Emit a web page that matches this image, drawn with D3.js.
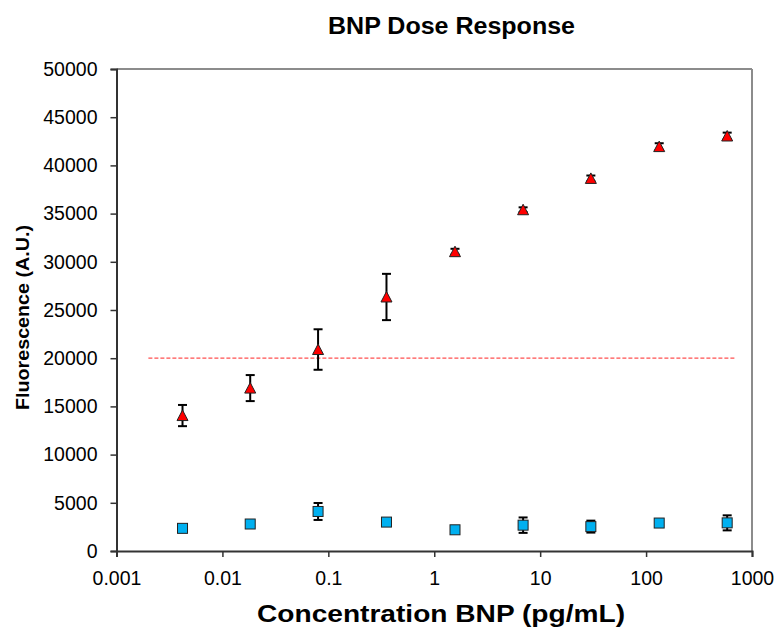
<!DOCTYPE html>
<html><head><meta charset="utf-8">
<script src="https://cdn.jsdelivr.net/npm/d3@7"></script>
<style>body{margin:0;background:#fff}svg{display:block}</style>
</head><body><svg id="c" width="779" height="635"></svg>
<script>
const concentrations = [0.0042, 0.0183, 0.080, 0.354, 1.57, 6.9, 30.1, 133, 583];
const bnpMean = [14050, 16900, 20900, 26350, 31050, 35400, 38650, 41950, 43050];
const bnpErr  = [1100, 1350, 2100, 2400, 300, 250, 300, 350, 350];
const ctrlMean = [2350, 2800, 4100, 3000, 2200, 2680, 2530, 2900, 2920];
const ctrlErr  = [0, 0, 880, 0, 0, 800, 620, 0, 780];
const cutoff = 20000;
const cutoffRange = [0.002, 690];
const xTicks = [0.001, 0.01, 0.1, 1, 10, 100, 1000];
const yTicks = [0, 5000, 10000, 15000, 20000, 25000, 30000, 35000, 40000, 45000, 50000];

const svg = d3.select("#c");
const L = 116.5, R = 752, T = 69, B = 551;
const x = d3.scaleLog().domain([0.001, 1000]).range([L, R]);
const y = d3.scaleLinear().domain([0, 50000]).range([B, T]);
const font = "Arial, 'Liberation Sans', sans-serif";

// frame top/right
svg.append("line").attr("x1", L).attr("x2", R).attr("y1", T).attr("y2", T).attr("stroke", "#8c8c8c").attr("stroke-width", 2);
svg.append("line").attr("x1", R).attr("x2", R).attr("y1", T).attr("y2", B).attr("stroke", "#8c8c8c").attr("stroke-width", 2);

// axes
const ya = svg.append("g").attr("transform", `translate(${L},0)`)
  .call(d3.axisLeft(y).tickValues(yTicks).tickSize(6).tickPadding(13).tickFormat(d3.format("d")));
const xa = svg.append("g").attr("transform", `translate(0,${B})`)
  .call(d3.axisBottom(x).tickValues(xTicks).tickSize(6).tickPadding(14).tickFormat(d => d >= 1 ? d3.format("d")(d) : String(d)));
[ya, xa].forEach(g => {
  g.select(".domain").attr("stroke", "#333").attr("stroke-width", 2);
  g.selectAll(".tick line").attr("stroke", "#333").attr("stroke-width", 1.5);
  g.selectAll("text").attr("font-family", font).attr("font-size", 19.5).attr("fill", "#000");
});

// cutoff line
svg.append("line").attr("x1", x(cutoffRange[0])).attr("x2", x(cutoffRange[1]))
  .attr("y1", y(cutoff)).attr("y2", y(cutoff))
  .attr("stroke", "#ff5050").attr("stroke-width", 1.2).attr("stroke-dasharray", "4,2");

function errBars(means, errs) {
  const g = svg.append("g").attr("stroke", "#000").attr("stroke-width", 2);
  means.forEach((m, i) => {
    const e = errs[i]; if (!e) return;
    const cx = x(concentrations[i]);
    g.append("line").attr("x1", cx).attr("x2", cx).attr("y1", y(m - e)).attr("y2", y(m + e));
    g.append("line").attr("x1", cx - 4.5).attr("x2", cx + 4.5).attr("y1", y(m + e)).attr("y2", y(m + e));
    g.append("line").attr("x1", cx - 4.5).attr("x2", cx + 4.5).attr("y1", y(m - e)).attr("y2", y(m - e));
  });
}
errBars(bnpMean, bnpErr);
errBars(ctrlMean, ctrlErr);

// squares
svg.append("g").selectAll("rect").data(ctrlMean).join("rect")
  .attr("x", (d, i) => x(concentrations[i]) - 5).attr("y", d => y(d) - 5)
  .attr("width", 10).attr("height", 10)
  .attr("fill", "#00b0f0").attr("stroke", "#222").attr("stroke-width", 1);

// triangles
svg.append("g").selectAll("path").data(bnpMean).join("path")
  .attr("d", (d, i) => { const cx = x(concentrations[i]), cy = y(d);
    return `M${cx},${cy - 5.5}L${cx + 5.5},${cy + 5}L${cx - 5.5},${cy + 5}Z`; })
  .attr("fill", "#ff0000").attr("stroke", "#222").attr("stroke-width", 1);

// titles
svg.append("text").attr("x", 451.5).attr("y", 34).attr("text-anchor", "middle")
  .attr("font-family", font).attr("font-weight", "bold").attr("font-size", 23)
  .attr("textLength", 247).attr("lengthAdjust", "spacingAndGlyphs").text("BNP Dose Response");
svg.append("text").attr("x", 441).attr("y", 622).attr("text-anchor", "middle")
  .attr("font-family", font).attr("font-weight", "bold").attr("font-size", 24)
  .attr("textLength", 368).attr("lengthAdjust", "spacingAndGlyphs").text("Concentration BNP (pg/mL)");
svg.append("text").attr("transform", "translate(29,317.5) rotate(-90)").attr("text-anchor", "middle")
  .attr("font-family", font).attr("font-weight", "bold").attr("font-size", 19)
  .attr("textLength", 185).attr("lengthAdjust", "spacingAndGlyphs").text("Fluorescence (A.U.)");
</script></body></html>
